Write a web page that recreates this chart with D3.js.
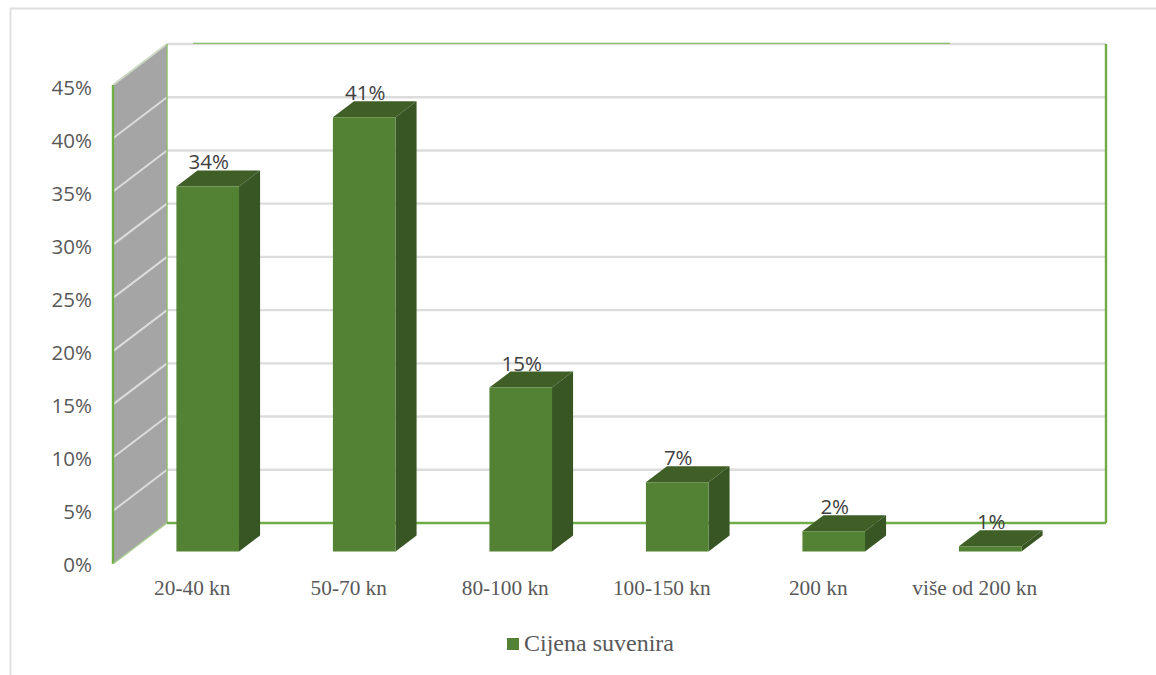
<!DOCTYPE html>
<html><head><meta charset="utf-8">
<script src="https://cdn.jsdelivr.net/npm/d3@7/dist/d3.min.js"></script>
<style>html,body{margin:0;padding:0;background:#fff;overflow:hidden}svg{display:block}</style>
</head><body><svg id="c" width="1156" height="675"></svg>
<script>
const categories = ["20-40 kn","50-70 kn","80-100 kn","100-150 kn","200 kn","više od 200 kn"];
const values = [34.3,40.8,15.4,6.5,1.9,0.5];
const valueLabels = ["34%","41%","15%","7%","2%","1%"];
const ticks = [0,5,10,15,20,25,30,35,40,45];
const seriesName = "Cijena suvenira";

const svg = d3.select("#c");
const x = d3.scaleBand().domain(categories).range([113,1052]).paddingInner(0.6).paddingOuter(0.3);
const y = d3.scaleLinear().domain([0,45]).range([564,85]);
const yTick = d3.scaleLinear().domain([0,45]).range([565,88]);
const DX = 54, DY = -41;           // depth of the box
const P = (px,v,z) => [px + DX*z, y(v) + DY*z];
const path = pts => "M" + pts.map(p=>p.join(",")).join("L") + "Z";
const GRID="#dcdcdc", EDGE="#70ad47", FRONT="#548235", TOP="#3f5f27", SIDE="#375623";
const x0=113, x1=1052;

// outer frame
svg.append("path").attr("d","M10.5,675V8.5H1156").attr("fill","none").attr("stroke","#dedede").attr("stroke-width",1.8);

// side wall
svg.append("path").attr("d",path([P(x0,0,0),P(x0,0,1),P(x0,45,1),P(x0,45,0)])).attr("fill","#a5a5a5");

// gridlines
ticks.forEach(t=>{
  const a=P(x0,t,0), b=P(x0,t,1), c=P(x1,t,1);
  if(t>0){
    svg.append("line").attr("x1",a[0]).attr("y1",a[1]).attr("x2",b[0]).attr("y2",b[1]).attr("stroke",t===45?"#ccd8c4":GRID).attr("stroke-width",2);
    svg.append("line").attr("x1",b[0]).attr("y1",b[1]).attr("x2",c[0]).attr("y2",c[1]).attr("stroke",GRID).attr("stroke-width",2.4);
  }
});
// green edges
const edge=(a,b,w,col)=>svg.append("line").attr("x1",a[0]).attr("y1",a[1]).attr("x2",b[0]).attr("y2",b[1]).attr("stroke",col||EDGE).attr("stroke-width",w);
edge(P(x0,0,0),P(x0,45,0),2.4);
edge(P(x0,0,1),P(x0,45,1),1.4,"#8cbc6c");
edge(P(x0,0,0),P(x0,0,1),1.4,"#a9cf90");
edge(P(x0,0,1),P(x1,0,1),2.4);
edge(P(x1,0,1),P(x1,45,1),2.4);
edge([193,P(x0,45,1)[1]-.6],[950,P(x0,45,1)[1]-.6],1.2,"#8fc06f");

// bars
const zF=0.305, zB=0.695;
const bars = svg.append("g").selectAll("g").data(categories).join("g");
bars.each(function(c,i){
  const g=d3.select(this), l=x(c), r=l+x.bandwidth(), v=values[i];
  g.append("path").attr("d",path([P(l,v,zF),P(l,v,zB),P(r,v,zB),P(r,v,zF)])).attr("fill",TOP);
  g.append("path").attr("d",path([P(r,0,zF),P(r,0,zB),P(r,v,zB),P(r,v,zF)])).attr("fill",SIDE);
  g.append("path").attr("d",path([P(l,0,zF),P(r,0,zF),P(r,v,zF),P(l,v,zF)])).attr("fill",FRONT);
  const top=P((l+r)/2,v,zF);
  g.append("text").attr("x",top[0]+1).attr("y",top[1]-17).text(valueLabels[i])
   .attr("text-anchor","middle").attr("font-family","'Open Sans',sans-serif").attr("font-size",20.5).attr("fill","#404040");
});

// value axis
const ya = svg.append("g").attr("transform","translate(92,0)")
  .call(d3.axisLeft(yTick).tickValues(ticks).tickSize(0).tickPadding(0).tickFormat(d=>d+"%"));
ya.select(".domain").remove();
ya.selectAll("text").attr("font-family","'Open Sans',sans-serif").attr("font-size",20.5).attr("fill","#595959");

// category axis
const xa = svg.append("g").attr("transform","translate(1,580)")
  .call(d3.axisBottom(x).tickSize(0).tickPadding(0));
xa.select(".domain").remove();
xa.selectAll("text").attr("font-family","'Liberation Serif',serif").attr("font-size",21.3).attr("fill","#595959");

// legend
svg.append("rect").attr("x",507).attr("y",638).attr("width",12).attr("height",12).attr("fill",FRONT);
svg.append("text").attr("x",524).attr("y",651).text(seriesName).attr("font-family","'Liberation Serif',serif").attr("font-size",24).attr("fill","#595959");
</script></body></html>
